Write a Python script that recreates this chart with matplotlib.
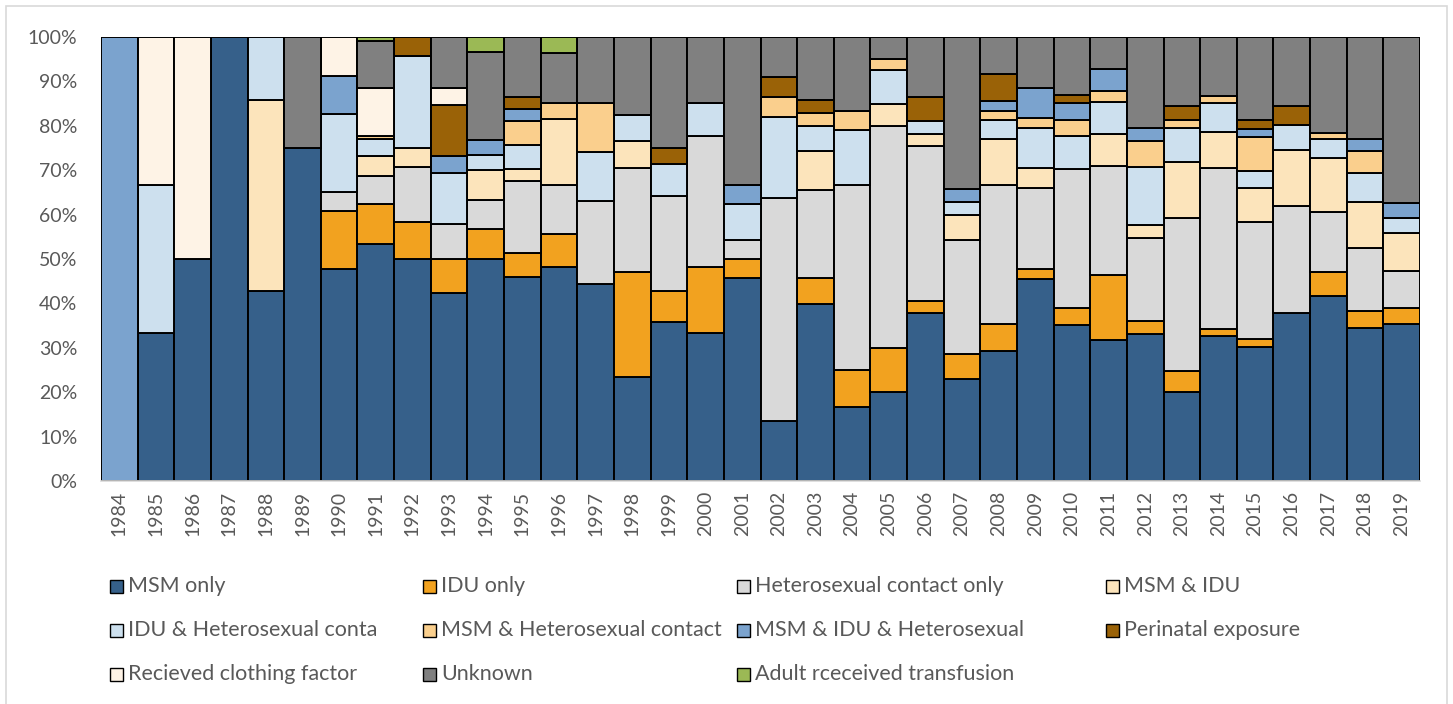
import matplotlib
matplotlib.use("Agg")
import matplotlib.pyplot as plt
import matplotlib.patches as mpatches
import numpy as np

plt.rcParams['font.family'] = ['Lato', 'DejaVu Sans']

years = [str(y) for y in range(1984, 2020)]

# share of cases per year (%)
msm_only = [0, 33.3, 50, 100, 42.9, 75, 47.8, 53.5, 50, 42.3, 50, 45.9, 48.1, 44.4, 23.5, 35.7, 33.3, 45.8,
            13.6, 40, 16.7, 20, 37.8, 22.9, 29.2, 45.5, 35.2, 31.7, 33.2, 20.1, 32.7, 30.1, 37.9, 41.7, 34.6, 35.5]
idu_only = [0, 0, 0, 0, 0, 0, 13.0, 9.0, 8.3, 7.7, 6.7, 5.4, 7.4, 0, 23.5, 7.1, 14.8, 4.2,
            0, 5.7, 8.3, 10, 2.7, 5.7, 6.2, 2.3, 3.7, 14.6, 2.9, 4.7, 1.5, 1.9, 0, 5.5, 3.8, 3.5]
hetero_only = [0, 0, 0, 0, 0, 0, 4.3, 6.3, 12.5, 7.7, 6.7, 16.2, 11.1, 18.5, 23.5, 21.4, 29.6, 4.2,
               50, 20, 41.7, 50, 35.1, 25.7, 31.2, 18.2, 31.5, 24.4, 18.8, 34.4, 36.2, 26.5, 24.0, 13.5, 14.1, 8.4]
msm_idu = [0, 0, 0, 0, 42.9, 0, 0, 4.5, 4.2, 0, 6.7, 2.7, 14.8, 0, 5.9, 0, 0, 0,
           0, 8.6, 0, 5, 2.7, 5.7, 10.4, 4.5, 0, 7.3, 2.9, 12.6, 8.3, 7.5, 12.8, 12.2, 10.4, 8.5]
idu_hetero = [0, 33.3, 0, 0, 14.3, 0, 17.4, 3.7, 20.8, 11.5, 3.3, 5.4, 0, 11.1, 5.9, 7.1, 7.4, 8.3,
              18.2, 5.7, 12.5, 7.5, 2.9, 2.9, 4.2, 9.0, 7.4, 7.3, 13.1, 7.7, 6.5, 3.8, 5.6, 4.1, 6.5, 3.4]
msm_hetero = [0, 0, 0, 0, 0, 0, 0, 0.8, 0, 0, 0, 5.4, 3.7, 11.1, 0, 0, 0, 0,
              4.5, 2.9, 4.2, 2.5, 0, 0, 2.1, 2.3, 3.7, 2.4, 5.9, 1.7, 1.6, 7.7, 0, 1.4, 5.0, 0]
msm_idu_hetero = [100, 0, 0, 0, 0, 0, 8.7, 0, 0, 3.8, 3.3, 2.7, 0, 0, 0, 0, 0, 4.2,
                  0, 0, 0, 0, 0, 2.9, 2.1, 6.8, 3.7, 4.8, 2.9, 0, 0, 1.8, 0, 0, 2.6, 3.4]
perinatal = [0, 0, 0, 0, 0, 0, 0, 0, 4.2, 11.5, 0, 2.7, 0, 0, 0, 3.6, 0, 0,
             4.5, 2.9, 0, 0, 5.4, 0, 6.2, 0, 1.9, 0, 0, 3.2, 0, 2.0, 4.3, 0, 0, 0]
clotting = [0, 33.3, 50, 0, 0, 0, 8.7, 10.7, 0, 3.8, 0, 0, 0, 0, 0, 0, 0, 0,
            0, 0, 0, 0, 0, 0, 0, 0, 0, 0, 0, 0, 0, 0, 0, 0, 0, 0]
unknown = [0, 0, 0, 0, 0, 25, 0, 10.8, 0, 11.5, 20, 13.5, 11.1, 14.8, 17.6, 25, 14.8, 33.3,
           9.1, 14.3, 16.7, 5, 13.5, 34.3, 8.3, 11.4, 13.0, 7.3, 20.5, 15.6, 13.2, 18.8, 15.5, 21.7, 23.1, 37.4]
transfusion = [0, 0, 0, 0, 0, 0, 0, 0.8, 0, 0, 3.3, 0, 3.7, 0, 0, 0, 0, 0,
               0, 0, 0, 0, 0, 0, 0, 0, 0, 0, 0, 0, 0, 0, 0, 0, 0, 0]

series = [
    ("MSM only", msm_only, "#36608A"),
    ("IDU only", idu_only, "#F2A21F"),
    ("Heterosexual contact only", hetero_only, "#D9D9D9"),
    ("MSM & IDU", msm_idu, "#FCE4BB"),
    ("IDU & Heterosexual conta", idu_hetero, "#CDE0EE"),
    ("MSM & Heterosexual contact", msm_hetero, "#FACF8D"),
    ("MSM & IDU & Heterosexual", msm_idu_hetero, "#7BA3CE"),
    ("Perinatal exposure", perinatal, "#9A6207"),
    ("Recieved clothing factor", clotting, "#FEF3E6"),
    ("Unknown", unknown, "#808080"),
    ("Adult rceceived transfusion", transfusion, "#9BB955"),
]

data = np.array([s[1] for s in series], dtype=float)
data = data / data.sum(axis=0) * 100  # 100% stacked

fig = plt.figure(figsize=(14.53, 7.04), dpi=100)
ax = fig.add_axes([101/1453, 223/704, 1319/1453, 444/704])

x = np.arange(len(years))
bottom = np.zeros(len(years))
for (name, _, col), vals in zip(series, data):
    m = vals > 0
    ax.bar(x[m], vals[m], bottom=bottom[m], width=1.0, color=col,
           edgecolor='black', linewidth=1.4)
    bottom += vals

ax.set_xlim(-0.5, len(years) - 0.5)
ax.set_ylim(0, 100)
ax.set_xticks(x)
ax.set_xticklabels(years, rotation=90)
ax.set_yticks(range(0, 101, 10))
ax.set_yticklabels([f"{v}%" for v in range(0, 101, 10)])
ax.tick_params(axis='both', length=0, labelsize=14, colors='#595959')
ax.tick_params(axis='y', pad=17)
ax.tick_params(axis='x', pad=7)
for s in ['top', 'right', 'left']:
    ax.spines[s].set_visible(False)
ax.spines['bottom'].set_color('#D9D9D9')
ax.spines['bottom'].set_linewidth(1.2)

# legend laid out like the Excel one
col_x = [110, 423, 737, 1106]
row_y = [586, 630, 674]
for i, (name, _, col) in enumerate(series):
    r, c = divmod(i, 4)
    px, py = col_x[c], row_y[r]
    fig.patches.append(mpatches.Rectangle((px/1453, (704 - py - 6.5)/704), 13/1453, 13/704,
                                          transform=fig.transFigure, facecolor=col,
                                          edgecolor='black', linewidth=1.0))
    fig.text((px + 18)/1453, (704 - py)/704, name, fontsize=15.5, color='#595959',
             va='center', ha='left')

# chart outer border
fig.patches.append(mpatches.Rectangle((6/1453, -0.01), 1441/1453, (698/704) + 0.01,
                                      transform=fig.transFigure, facecolor='none',
                                      edgecolor='#D9D9D9', linewidth=1.2))

fig.savefig("out.png", dpi=100)
